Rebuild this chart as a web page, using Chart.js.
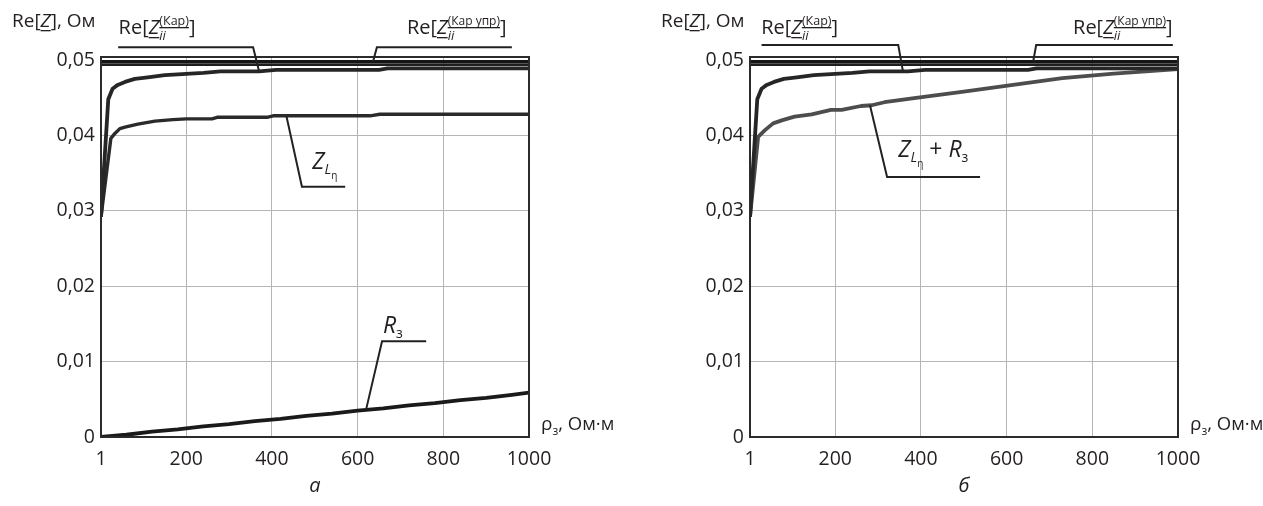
<!DOCTYPE html>
<html>
<head>
<meta charset="utf-8">
<script src="https://cdn.jsdelivr.net/npm/chart.js@4.4.0/dist/chart.umd.min.js"></script>
<style>
  html, body { margin: 0; padding: 0; background: #fff; }
  #wrap { position: relative; width: 1263px; height: 506px; }
  .panel { position: absolute; top: 0; height: 506px; }
  #panelA { left: 0; width: 632px; }
  #panelB { left: 632px; width: 631px; }
</style>
</head>
<body>
<div id="wrap">
  <div class="panel" id="panelA"><canvas id="chartA"></canvas></div>
  <div class="panel" id="panelB"><canvas id="chartB"></canvas></div>
</div>
<script>
// Оси
const xTicks = [1, 200, 400, 600, 800, 1000];
const yTicks = [0, 0.01, 0.02, 0.03, 0.04, 0.05];

// Re[Z(Кар упр)] и соседняя горизонталь
const rhoFlat = [1, 1000];
const reKarUpr = [0.0498, 0.0498];
const reFlat2 = [0.0494, 0.0494];

// Re[Z(Кар)]
const rhoKar = [1, 18, 28, 40, 57, 80, 110, 150, 210, 240, 280, 370, 410, 650, 670, 1000];
const reKar = [0.0292, 0.0448, 0.0462, 0.0467, 0.0471, 0.0475, 0.0477, 0.0480, 0.0482, 0.0483, 0.0485, 0.0485, 0.0487, 0.0487, 0.0489, 0.0489];

// Z_Lη
const rhoZL = [1, 24, 34, 45, 57, 87, 127, 169, 200, 260, 272, 388, 403, 629, 652, 1000];
const zL = [0.0292, 0.0396, 0.0403, 0.0409, 0.0411, 0.0415, 0.0419, 0.0421, 0.0422, 0.0422, 0.0424, 0.0424, 0.0426, 0.0426, 0.0428, 0.0428];

// R_з
const rhoR = [1, 60, 120, 180, 240, 300, 360, 420, 480, 540, 600, 660, 720, 780, 840, 900, 960, 1000];
const rZ = [0.0000, 0.0003, 0.0007, 0.0010, 0.0014, 0.0017, 0.0021, 0.0024, 0.0028, 0.0031, 0.0035, 0.0038, 0.0042, 0.0045, 0.0049, 0.0052, 0.0056, 0.0059];

// Z_Lη + R_з
const rhoZR = [1, 20, 36, 55, 75, 105, 145, 190, 215, 260, 285, 315, 380, 500, 615, 730, 850, 1000];
const zLR = [0.0292, 0.0398, 0.0407, 0.0416, 0.0420, 0.0425, 0.0428, 0.0434, 0.0434, 0.0439, 0.0440, 0.0444, 0.0449, 0.0458, 0.0467, 0.0476, 0.0482, 0.0488];

const INK = '#231f20';
const FONT = '"Open Sans", sans-serif';

function series(xs, ys, color, width) {
  return {
    data: xs.map((x, i) => ({ x: x, y: ys[i] })),
    borderColor: color,
    borderWidth: width,
    pointRadius: 0,
    fill: false
  };
}

// текст с индексами
function drawParts(ctx, x, y, parts) {
  let cursor = x, lastStart = x;
  parts.forEach(p => {
    ctx.font = (p.it ? 'italic ' : '') + (p.s || 20) + 'px ' + FONT;
    const w = ctx.measureText(p.t).width;
    const px = p.same ? lastStart : cursor;
    const py = y + (p.dy || 0);
    ctx.fillText(p.t, px, py);
    if (p.ul) ctx.fillRect(px, py + p.ul, w, 1.3);
    const end = px + w;
    if (p.same) {
      cursor = Math.max(cursor, end);
    } else {
      lastStart = px;
      cursor = end;
    }
  });
}

const reZTitle = [{ t: 'Re[', s: 19 }, { t: 'Z', it: true, ul: 3, s: 19 }, { t: '], Ом', s: 19 }];
const rhoTitle = [{ t: 'ρ', s: 19 }, { t: 'з', s: 12, dy: 5 }, { t: ', Ом·м', s: 18.5 }];
const karLabel = [{ t: 'Re[' }, { t: 'Z', it: true, ul: 3 }, { t: 'ii', it: true, s: 13, dy: 6 }, { t: '(Кар)', s: 12.5, dy: -9, same: true, ul: 2 }, { t: ']' }];
const karUprLabel = [{ t: 'Re[' }, { t: 'Z', it: true, ul: 3 }, { t: 'ii', it: true, s: 13, dy: 6 }, { t: '(Кар упр)', s: 12, dy: -9, same: true, ul: 2 }, { t: ']' }];
const zLLabel = [{ t: 'Z', it: true, s: 23 }, { t: 'L', it: true, s: 14, dy: 5 }, { t: 'η', s: 10, dy: 10 }];
const zLRLabel = zLLabel.concat([{ t: ' + ', s: 23 }, { t: 'R', it: true, s: 23 }, { t: 'з', s: 14, dy: 5 }]);
const rLabel = [{ t: 'R', it: true, s: 23 }, { t: 'з', s: 14, dy: 5 }];

// выноски в координатах данных
const notes = {
  chartA: {
    leaders: [
      [[41, 0.0517], [356, 0.0517], [370, 0.0485]],
      [[960, 0.0517], [645, 0.0517], [636, 0.0498]],
      [[434, 0.0425], [470, 0.0332], [571, 0.0332]],
      [[620, 0.0037], [657, 0.0127], [760, 0.0127]]
    ],
    texts: [
      [42, 0.05345, karLabel],
      [715, 0.05345, karUprLabel],
      [494, 0.0355, zLLabel],
      [659, 0.0138, rLabel]
    ]
  },
  chartB: {
    leaders: [
      [[28, 0.0520], [347, 0.0520], [358, 0.0485]],
      [[988, 0.0520], [669, 0.0520], [662, 0.0498]],
      [[281, 0.0440], [321, 0.0345], [538, 0.0345]]
    ],
    texts: [
      [27, 0.05345, karLabel],
      [755, 0.05345, karUprLabel],
      [347, 0.0372, zLRLabel]
    ]
  }
};

const notesPlugin = {
  id: 'notes',
  afterDraw(chart) {
    const ctx = chart.ctx;
    const a = chart.chartArea;
    const xs = chart.scales.x, ys = chart.scales.y;
    const n = notes[chart.canvas.id];
    ctx.save();
    // рамка
    ctx.strokeStyle = '#2b2b2b';
    ctx.lineWidth = 2;
    ctx.strokeRect(a.left, a.top, a.right - a.left, a.bottom - a.top);
    // выноски
    ctx.strokeStyle = '#222';
    ctx.lineWidth = 2;
    ctx.lineJoin = 'miter';
    n.leaders.forEach(pts => {
      ctx.beginPath();
      pts.forEach((p, i) => {
        const px = xs.getPixelForValue(p[0]);
        const py = ys.getPixelForValue(p[1]);
        if (i === 0) ctx.moveTo(px, py); else ctx.lineTo(px, py);
      });
      ctx.stroke();
    });
    ctx.fillStyle = INK;
    ctx.textBaseline = 'alphabetic';
    ctx.textAlign = 'left';
    n.texts.forEach(t => {
      drawParts(ctx, xs.getPixelForValue(t[0]), ys.getPixelForValue(t[1]), t[2]);
    });
    // подписи осей
    drawParts(ctx, a.left - 89, a.top - 30, reZTitle);
    drawParts(ctx, a.right + 12, a.bottom - 7, rhoTitle);
    ctx.restore();
  }
};

function makeChart(id, datasets, yWidth, padRight, letter) {
  return new Chart(document.getElementById(id), {
    type: 'line',
    data: { datasets: datasets },
    options: {
      responsive: true,
      maintainAspectRatio: false,
      animation: false,
      layout: { padding: { left: 0, right: padRight, top: 57, bottom: 0 } },
      plugins: { legend: { display: false }, tooltip: { enabled: false } },
      elements: { line: { tension: 0, borderJoinStyle: 'round', borderCapStyle: 'butt' } },
      scales: {
        x: {
          type: 'linear',
          min: 1,
          max: 1000,
          afterBuildTicks: s => { s.ticks = xTicks.map(v => ({ value: v })); },
          afterFit: s => { s.height = 69; },
          grid: { color: '#b5b5b5', lineWidth: 1, drawTicks: false },
          border: { display: false },
          ticks: {
            color: INK,
            font: { family: FONT, size: 19.5 },
            padding: 11,
            maxRotation: 0,
            callback: v => String(v)
          },
          title: {
            display: true,
            text: letter,
            color: INK,
            font: { family: FONT, size: 20, style: 'italic' },
            padding: { top: 0, bottom: 8 }
          }
        },
        y: {
          type: 'linear',
          min: 0,
          max: 0.0504,
          afterBuildTicks: s => { s.ticks = yTicks.map(v => ({ value: v })); },
          afterFit: s => { s.width = yWidth; },
          grid: { color: '#b5b5b5', lineWidth: 1, drawTicks: false },
          border: { display: false },
          ticks: {
            color: INK,
            font: { family: FONT, size: 19.5 },
            padding: 6,
            callback: v => v === 0 ? '0' : v.toFixed(2).replace('.', ',')
          }
        }
      }
    },
    plugins: [notesPlugin]
  });
}

makeChart('chartA', [
  series(rhoFlat, reKarUpr, '#151515', 2.8),
  series(rhoFlat, reFlat2, '#1e1e1e', 2.8),
  series(rhoKar, reKar, '#262626', 3.8),
  series(rhoZL, zL, '#2a2a2a', 3.4),
  series(rhoR, rZ, '#1a1a1a', 3.8)
], 101, 103, 'а');

makeChart('chartB', [
  series(rhoFlat, reKarUpr, '#151515', 2.8),
  series(rhoFlat, reFlat2, '#1e1e1e', 2.8),
  series(rhoKar, reKar, '#262626', 3.8),
  series(rhoZR, zLR, '#4d4d4d', 3.8)
], 118, 85, 'б');
</script>
</body>
</html>
